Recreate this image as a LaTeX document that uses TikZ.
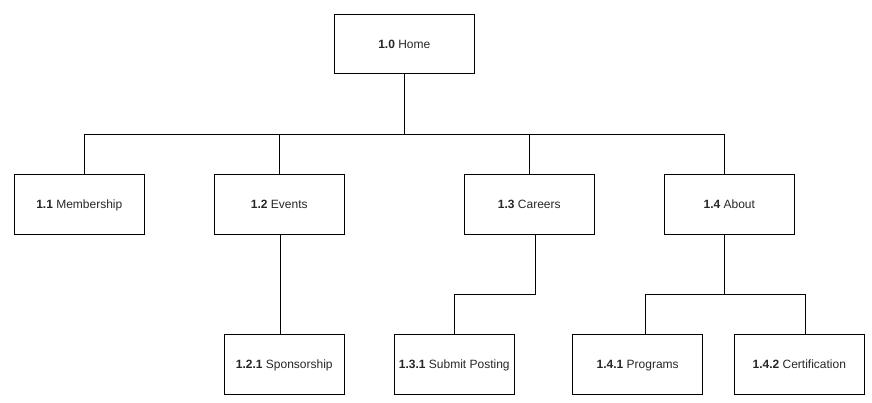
\documentclass[tikz,border=0pt]{standalone}
\usepackage{fontspec}
\setmainfont{Liberation Sans}
\usetikzlibrary{calc}

\begin{document}
\begin{tikzpicture}[
    x=1pt, y=-1pt,
    pagebox/.style={draw, line width=1pt, minimum width=130pt, minimum height=60pt,
        inner sep=2pt, text height=9pt, text depth=1pt,
        font=\fontsize{12}{14}\selectfont, text=black!85},
    link/.style={line width=1pt}
]
    \useasboundingbox (0,0) rectangle (872,402);
    % top level
    \node[pagebox, minimum width=140pt, minimum height=59pt] (home) at (404.3,44) {\textbf{1.0} Home};
    % second level
    \node[pagebox] (member) at (79.3,204.3) {\textbf{1.1} Membership};
    \node[pagebox] (events) at (279.3,204.3) {\textbf{1.2} Events};
    \node[pagebox] (careers) at (529.3,204.3) {\textbf{1.3} Careers};
    \node[pagebox] (about) at (729.3,204.3) {\textbf{1.4} About};
    % third level
    \node[pagebox, minimum width=120pt] (sponsor) at (284.3,364.3) {\textbf{1.2.1} Sponsorship};
    \node[pagebox, minimum width=120pt] (posting) at (454.3,364.3) {\textbf{1.3.1} Submit Posting};
    \node[pagebox] (programs) at (637.7,364.3) {\textbf{1.4.1} Programs};
    \node[pagebox] (certif) at (799.3,364.3) {\textbf{1.4.2} Certification};
    % bus points
    \coordinate (busL) at (84.3,134.3);
    \coordinate (busR) at (724.3,134.3);
    \coordinate (busC) at (454.3,294.3);
    \coordinate (busAL) at (645,294.3);
    \coordinate (busAR) at (805,294.3);
    % connectors
    \draw[link] (home.south) -- (home.south |- busL);
    \draw[link] (busL) -- (busR);
    \draw[link] (busL) -- (busL |- member.north);
    \draw[link] (events.north |- busL) -- (events.north);
    \draw[link] (careers.north |- busL) -- (careers.north);
    \draw[link] (busR) -- (busR |- about.north);
    \draw[link] ([xshift=1.4pt]events.south) -- ([xshift=1.4pt]events.south |- sponsor.north);
    \draw[link] ([xshift=5.7pt]careers.south) |- (busC) -- (posting.north);
    \draw[link] (busR |- about.south) -- (busR |- busAL);
    \draw[link] (busAL |- programs.north) |- (busAR) -- (busAR |- certif.north);
\end{tikzpicture}
\end{document}
